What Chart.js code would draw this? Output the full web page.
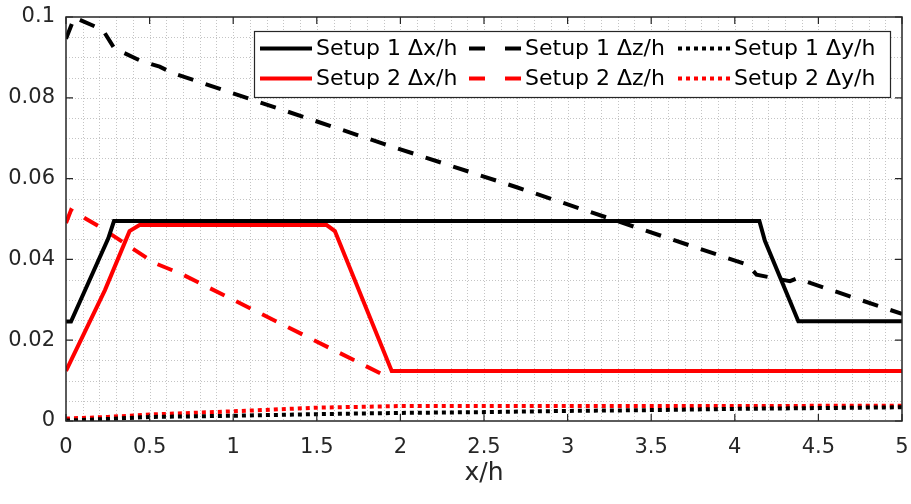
<!DOCTYPE html>
<html>
<head>
<meta charset="utf-8">
<script src="https://cdn.jsdelivr.net/npm/chart.js@4/dist/chart.umd.min.js"></script>
<style>
  html, body { margin: 0; padding: 0; background: #fff; }
  #wrap { width: 911px; height: 504px; }
</style>
</head>
<body>
<div id="wrap"><canvas id="c" width="911" height="504"></canvas></div>
<script>
// values
var s1dxX = [0, 0.03, 0.253, 0.287, 4.147, 4.18, 4.38, 5];
var s1dxY = [0.0246, 0.0246, 0.0452, 0.0495, 0.0495, 0.0446, 0.0247, 0.0247];

var s1dzX = [0, 0.05, 0.22, 0.29, 0.45, 0.56, 0.64, 1.9, 2.7, 4.08, 4.13, 4.33, 4.37, 5];
var s1dzY = [0.0946, 0.0999, 0.0968, 0.0922, 0.0891, 0.0877, 0.0861, 0.0686, 0.0578, 0.0386, 0.0362, 0.0346, 0.0353, 0.0265];

var s1dyX = [0, 0.25, 0.5, 1, 1.5, 2, 2.5, 3, 3.5, 4, 4.5, 5];
var s1dyY = [0.0001, 0.0005, 0.0010, 0.0013, 0.0017, 0.0020, 0.0022, 0.0025, 0.0027, 0.0030, 0.0032, 0.0034];

var s2dxX = [0, 0.233, 0.38, 0.44, 1.559, 1.608, 1.948, 5];
var s2dxY = [0.0124, 0.0324, 0.0470, 0.0485, 0.0485, 0.0470, 0.0124, 0.0124];

var s2dzX = [0, 0.03, 0.2, 0.53, 0.69, 1.88, 1.94];
var s2dzY = [0.0490, 0.0522, 0.0481, 0.0391, 0.0364, 0.0118, 0.0122];

var s2dyX = [0, 0.25, 0.5, 1, 1.5, 2, 2.5, 3, 4, 5];
var s2dyY = [0.0006, 0.0010, 0.0016, 0.0024, 0.0033, 0.0037, 0.0037, 0.0037, 0.0037, 0.0038];

var xTicks = { min: 0, max: 5, step: 0.5, minor: 0.1 };
var yTicks = { min: 0, max: 0.1, step: 0.02, minor: 0.005 };

function pts(xs, ys) {
  return xs.map(function (x, i) { return { x: x, y: ys[i] }; });
}

function fmt(v) {
  return String(parseFloat(Number(v).toFixed(4)));
}

var DASH = [16, 13];
var DOT = [4, 4];
var axisColor = '#262626';

function ds(label, xs, ys, color, dash) {
  return {
    label: label,
    data: pts(xs, ys),
    borderColor: color,
    backgroundColor: color,
    borderWidth: 4,
    borderDash: dash,
    borderCapStyle: 'butt',
    borderJoinStyle: 'miter',
    pointRadius: 0,
    tension: 0,
    fill: false
  };
}

var datasets = [
  ds('Setup 1 \u0394x/h', s1dxX, s1dxY, '#000000', []),
  ds('Setup 1 \u0394z/h', s1dzX, s1dzY, '#000000', DASH),
  ds('Setup 1 \u0394y/h', s1dyX, s1dyY, '#000000', DOT),
  ds('Setup 2 \u0394x/h', s2dxX, s2dxY, '#ff0000', []),
  ds('Setup 2 \u0394z/h', s2dzX, s2dzY, '#ff0000', DASH),
  ds('Setup 2 \u0394y/h', s2dyX, s2dyY, '#ff0000', DOT)
];

// minor dotted grid, drawn under the lines
var gridPlugin = {
  id: 'minorGrid',
  beforeDatasetsDraw: function (chart) {
    var ctx = chart.ctx, a = chart.chartArea;
    var xs = chart.scales.x, ys = chart.scales.y;
    ctx.save();
    ctx.strokeStyle = '#c4c4c4';
    ctx.lineWidth = 1;
    ctx.setLineDash([1, 2]);
    var n = Math.round((xTicks.max - xTicks.min) / xTicks.minor);
    for (var i = 1; i < n; i++) {
      var px = Math.round(xs.getPixelForValue(xTicks.min + i * xTicks.minor)) + 0.5;
      ctx.beginPath(); ctx.moveTo(px, a.top); ctx.lineTo(px, a.bottom); ctx.stroke();
    }
    n = Math.round((yTicks.max - yTicks.min) / yTicks.minor);
    for (var j = 1; j < n; j++) {
      var py = Math.round(ys.getPixelForValue(yTicks.min + j * yTicks.minor)) + 0.5;
      ctx.beginPath(); ctx.moveTo(a.left, py); ctx.lineTo(a.right, py); ctx.stroke();
    }
    ctx.restore();
  }
};

// box + inward ticks, then the legend
var boxPlugin = {
  id: 'boxAxes',
  afterDatasetsDraw: function (chart) {
    var ctx = chart.ctx, a = chart.chartArea;
    var xs = chart.scales.x, ys = chart.scales.y;
    ctx.save();
    ctx.strokeStyle = axisColor;
    ctx.lineWidth = 1.5;
    ctx.setLineDash([]);
    ctx.strokeRect(a.left, a.top, a.right - a.left, a.bottom - a.top);
    ctx.lineWidth = 1.2;
    var tl = 7;
    xs.ticks.forEach(function (t) {
      var px = xs.getPixelForValue(t.value);
      ctx.beginPath();
      ctx.moveTo(px, a.bottom); ctx.lineTo(px, a.bottom - tl);
      ctx.moveTo(px, a.top); ctx.lineTo(px, a.top + tl);
      ctx.stroke();
    });
    ys.ticks.forEach(function (t) {
      var py = ys.getPixelForValue(t.value);
      ctx.beginPath();
      ctx.moveTo(a.left, py); ctx.lineTo(a.left + tl, py);
      ctx.moveTo(a.right, py); ctx.lineTo(a.right - tl, py);
      ctx.stroke();
    });
    ctx.restore();
  },
  afterDraw: function (chart) {
    var ctx = chart.ctx;
    var bx = 254, by = 31, bw = 636, bh = 66;
    ctx.save();
    ctx.fillStyle = '#fff';
    ctx.fillRect(bx, by, bw, bh);
    ctx.strokeStyle = axisColor;
    ctx.lineWidth = 1.2;
    ctx.strokeRect(bx + 0.5, by + 0.5, bw, bh);
    ctx.font = '22px "DejaVu Sans"';
    ctx.textBaseline = 'middle';
    ctx.fillStyle = '#000';
    var colX = [260, 469, 678];
    var rowY = [48.5, 78.5];
    chart.data.datasets.forEach(function (d, i) {
      var col = i % 3, row = Math.floor(i / 3);
      var x0 = colX[col], y0 = rowY[row];
      ctx.strokeStyle = d.borderColor;
      ctx.lineWidth = 4;
      ctx.lineCap = 'butt';
      ctx.setLineDash(d.borderDash.length ? (d.borderDash === DASH ? [16, 20] : DOT) : []);
      ctx.beginPath(); ctx.moveTo(x0, y0); ctx.lineTo(x0 + 52, y0); ctx.stroke();
      ctx.setLineDash([]);
      ctx.fillStyle = '#000';
      ctx.fillText(d.label, x0 + 56, y0 + 1);
    });
    ctx.restore();
  }
};

new Chart(document.getElementById('c'), {
  type: 'line',
  data: { datasets: datasets },
  plugins: [gridPlugin, boxPlugin],
  options: {
    responsive: false,
    animation: false,
    layout: { padding: { top: 17, right: 9, left: 0, bottom: 0 } },
    plugins: { legend: { display: false }, tooltip: { enabled: false } },
    scales: {
      x: {
        type: 'linear',
        min: xTicks.min, max: xTicks.max,
        ticks: { stepSize: xTicks.step, color: axisColor, padding: 14, maxRotation: 0,
                 font: { family: 'DejaVu Sans', size: 21 }, callback: fmt },
        grid: { display: false, drawTicks: false },
        border: { display: false },
        title: { display: true, text: 'x/h', color: axisColor,
                 font: { family: 'DejaVu Sans', size: 25 }, padding: { top: 0, bottom: 16 } },
        afterFit: function (s) { s.height = 83; s.paddingLeft = 0; s.paddingRight = 0; }
      },
      y: {
        type: 'linear',
        min: yTicks.min, max: yTicks.max,
        ticks: { stepSize: yTicks.step, color: axisColor, padding: 11,
                 font: { family: 'DejaVu Sans', size: 21 }, callback: fmt },
        grid: { display: false, drawTicks: false },
        border: { display: false },
        afterFit: function (s) { s.width = 66; s.paddingTop = 0; s.paddingBottom = 0; }
      }
    }
  }
});
</script>
</body>
</html>
